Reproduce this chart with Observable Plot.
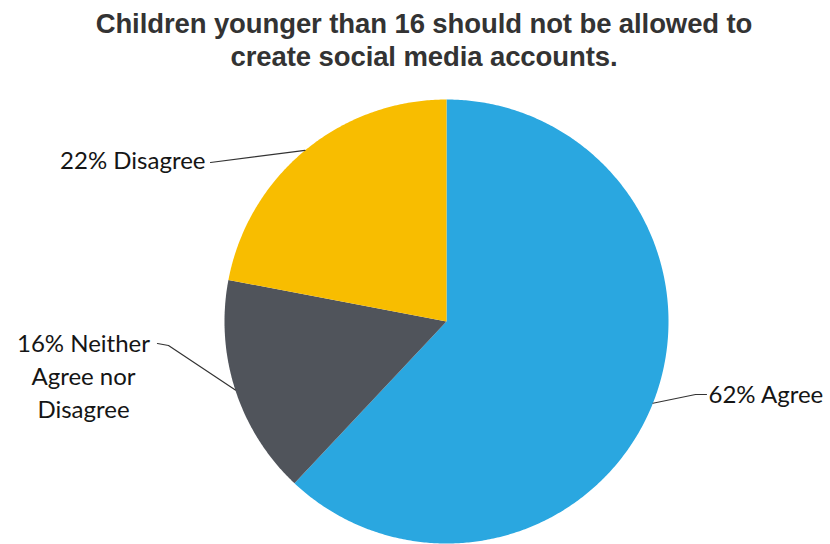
<!DOCTYPE html>
<html><head><meta charset="utf-8">
<script src="https://cdn.jsdelivr.net/npm/d3@7"></script>
<script src="https://cdn.jsdelivr.net/npm/@observablehq/plot@0.6"></script>
<style>
body{margin:0;background:#fff;}
#title{width:830px;height:80px;box-sizing:border-box;padding:7px 0 0 18px;text-align:center;font:bold 27.5px/33px "Liberation Sans",Arial,sans-serif;color:#333;letter-spacing:-0.1px;}
</style></head><body>
<div id="title">Children younger than 16 should not be allowed to<br>create social media accounts.</div>
<div id="chart"></div>
<script>
// ---- data ----
const categories = ["Agree", "Neither Agree nor Disagree", "Disagree"];
const percents = [62, 16, 22];
const labelTexts = ["62% Agree", "16% Neither\nAgree nor\nDisagree", "22% Disagree"];
const colors = ["#2AA7E0", "#50545B", "#F8BD00"];

// ---- layout (pixels relative to pie centre, y down) ----
const R = 222;
const layout = {
  "Agree": {elbow: [[249, 73], [260, 73]], text: [262, 58], anchor: "start"},
  "Neither Agree nor Disagree": {elbow: [[-278, 24], [-289, 22]], text: [-363, 7], anchor: "middle"},
  "Disagree": {elbow: [[-236, -159]], text: [-241, -176], anchor: "end"}
};
const px = ([rx, ry]) => ({x: rx / R, y: -ry / R});

// ---- geometry in data space (unit circle) ----
let cum = 0;
const slices = categories.map((c, i) => {
  const a0 = cum / 100 * 2 * Math.PI; cum += percents[i];
  const a1 = cum / 100 * 2 * Math.PI;
  return {c, a0, a1, mid: (a0 + a1) / 2, label: labelTexts[i]};
});
const piePts = [];
for (const s of slices) {
  piePts.push({c: s.c, x: 0, y: 0});
  const n = Math.ceil((s.a1 - s.a0) / (Math.PI / 360));
  for (let k = 0; k <= n; k++) {
    const a = s.a0 + (s.a1 - s.a0) * k / n;
    piePts.push({c: s.c, x: Math.sin(a), y: Math.cos(a)});
  }
}
const leaderPts = [];
for (const s of slices) {
  leaderPts.push({c: s.c, x: Math.sin(s.mid), y: Math.cos(s.mid)});
  for (const e of layout[s.c].elbow) leaderPts.push({c: s.c, ...px(e)});
}
const textMarks = slices.map(s => {
  const p = px(layout[s.c].text);
  return Plot.text([{...p, label: s.label}], {
    x: "x", y: "y", text: "label", textAnchor: layout[s.c].anchor, lineAnchor: "top",
    lineHeight: 1.37, fontFamily: "Lato, 'Open Sans', sans-serif", fontSize: 24, fill: "#151515"
  });
});

const chart = Plot.plot({
  width: 830, height: 464,
  marginLeft: 224, marginRight: 162, marginTop: 19, marginBottom: 1,
  x: {domain: [-1, 1], axis: null},
  y: {domain: [-1, 1], axis: null},
  color: {domain: categories, range: colors},
  style: {overflow: "visible", background: "#fff"},
  marks: [
    Plot.line(piePts, {x: "x", y: "y", z: "c", fill: "c", stroke: "none", curve: "linear-closed"}),
    Plot.line(leaderPts, {x: "x", y: "y", z: "c", stroke: "#333", strokeWidth: 1.2}),
    ...textMarks
  ]
});
document.getElementById("chart").appendChild(chart);
</script>
</body></html>
